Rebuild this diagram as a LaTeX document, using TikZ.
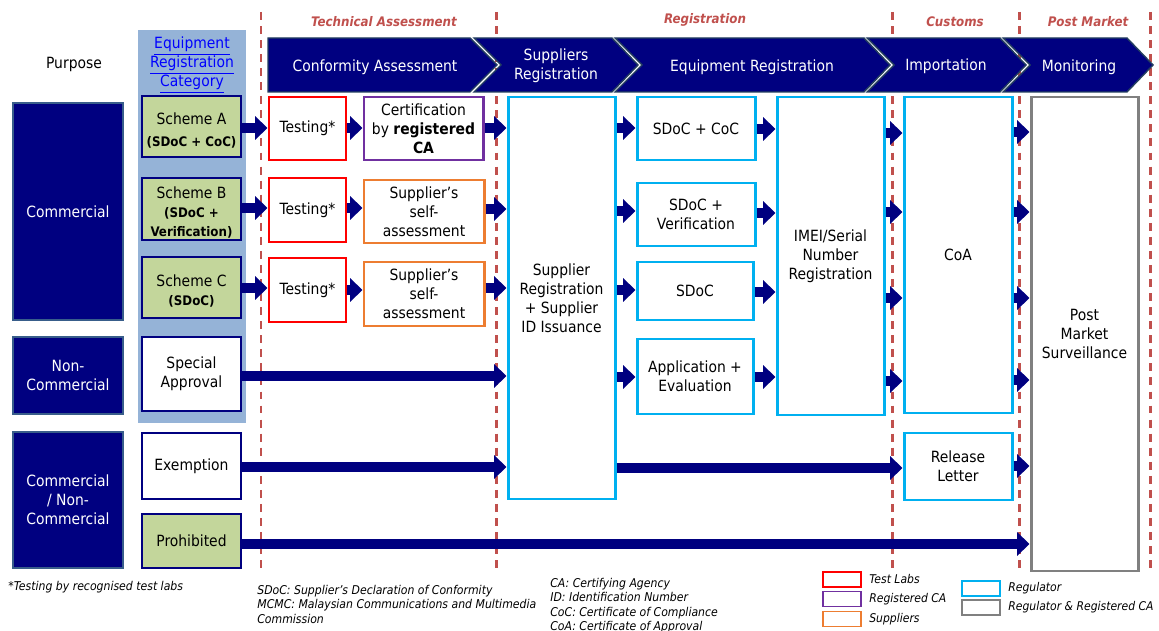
\documentclass[tikz,border=0pt]{standalone}
\usepackage{fontspec}
\setmainfont{DejaVu Sans Condensed}
\usetikzlibrary{arrows.meta}

\definecolor{navy}{HTML}{000080}
\definecolor{navyedge}{HTML}{385D8A}
\definecolor{chevedge}{HTML}{243F60}
\definecolor{colblue}{HTML}{95B3D7}
\definecolor{schemegreen}{HTML}{C3D69B}
\definecolor{phasered}{HTML}{C0504D}
\definecolor{labred}{HTML}{FF0000}
\definecolor{capurple}{HTML}{7030A0}
\definecolor{suporange}{HTML}{ED7D31}
\definecolor{regcyan}{HTML}{00B0F0}
\definecolor{pmsgray}{HTML}{808080}
\definecolor{linkblue}{HTML}{0000FF}

\newcommand{\schemenote}{\fontsize{7.5}{9.2}\selectfont\bfseries}
\newcommand{\schemetop}{\rule{0pt}{11pt}}

\tikzset{
  sz/.style 2 args={minimum width=#1*0.02cm, minimum height=#2*0.02cm},
  txt/.style={font=\fontsize{8.8}{10.8}\selectfont, align=center},
  purposebox/.style={txt, draw=navyedge, line width=1.2pt, fill=navy, text=white, inner sep=0pt},
  catbox/.style={txt, draw=navy, line width=1.7pt, fill=#1, inner sep=0pt},
  stagebox/.style={txt, draw=#1, line width=1.7pt, fill=white, inner sep=0pt},
  legbox/.style={draw=#1, line width=1.1pt, inner sep=0pt, sz={38}{15}},
  legtxt/.style={font=\fontsize{6.85}{8}\selectfont\itshape, anchor=west, inner sep=0pt},
  note/.style={font=\fontsize{6.9}{8.1}\selectfont\itshape, align=left, anchor=north west, inner sep=0pt},
  blk/.style={navy, line width=6pt, -{Triangle[length=7pt,width=13pt]}},
  chev/.style={fill=navy, draw=chevedge, line width=0.8pt},
  chevtxt/.style={txt, text=white},
  phase/.style={font=\fontsize{7.5}{9}\selectfont\bfseries\itshape, text=phasered},
  phaseline/.style={phasered, line width=1.7pt, dash pattern=on 4.5pt off 3.5pt},
}

\begin{document}
\begin{tikzpicture}[x=0.02cm,y=-0.02cm]
\useasboundingbox (0,0) rectangle (1159,631);

% phase borders
\foreach \x in {261,496,892,1019,1150}
  \draw[phaseline] (\x,12) -- (\x,570);
\node[phase] (techph) at (384,22) {Technical Assessment};
\node[phase] (regph) at (705,20) {Registration};
\node[phase] (custph) at (955,22) {Customs};
\node[phase] (postph) at (1088,22) {Post Market};

% process chevrons
\draw[chev] (268,38) -- (470,38) -- (497,65) -- (470,92) -- (268,92) -- cycle;
\foreach \l/\r in {474/612,615/864,867/1000,1003/1127}
  \draw[chev] (\l,38) -- (\r,38) -- (\r+26,65) -- (\r,92) -- (\l,92) -- (\l+27,65) -- cycle;
\node[chevtxt] (confass) at (375,67) {Conformity Assessment};
\node[chevtxt] (suppchev) at (556,66) {Suppliers\\Registration};
\node[chevtxt] (equipchev) at (752,67) {Equipment Registration};
\node[chevtxt] (impchev) at (946,66) {Importation};
\node[chevtxt] (monchev) at (1079,67) {Monitoring};

% purpose column
\node[txt] (purpose) at (74,64) {Purpose};
\node[purposebox, sz={110}{217}] (comm) at (68,211.5) {Commercial};
\node[purposebox, sz={110}{77}] (noncomm) at (68,375.5) {Non-\\Commercial};
\node[purposebox, sz={110}{136}] (both) at (68,500) {Commercial\\/ Non-\\Commercial};

% registration category column
\fill[colblue] (138,30) rectangle (246,423);
\node[txt, text=linkblue] (category) at (192,65)
  {\underline{Equipment}\\\underline{Registration}\\\underline{Category}};
\node[catbox=schemegreen, sz={99}{61}] (schA) at (191.5,126.5)
  {\schemetop Scheme A\\[2pt]{\schemenote (SDoC + CoC)}};
\node[catbox=schemegreen, sz={99}{62}] (schB) at (191.5,209)
  {\schemetop Scheme B\\{\schemenote (SDoC +}\\{\schemenote Verification)}};
\node[catbox=schemegreen, sz={99}{61}] (schC) at (191.5,287.5)
  {\schemetop Scheme C\\{\schemenote (SDoC)}};
\node[catbox=white, sz={99}{74}] (special) at (191.5,374) {Special\\Approval};
\node[catbox=white, sz={99}{66}] (exempt) at (191.5,466) {Exemption};
\node[catbox=schemegreen, sz={99}{54}] (prohib) at (191.5,541) {Prohibited};

% conformity assessment
\node[stagebox=labred, sz={77}{63}] (testA) at (307.5,128.5) {Testing*};
\node[stagebox=capurple, sz={119}{63}] (cert) at (423.5,128.5)
  {Certification\\by \textbf{registered}\\\textbf{CA}};
\node[stagebox=labred, sz={77}{64}] (testB) at (307.5,210) {Testing*};
\node[stagebox=suporange, sz={120}{63}] (selfB) at (424,211.5)
  {Supplier’s\\self-\\assessment};
\node[stagebox=labred, sz={77}{64}] (testC) at (307.5,290) {Testing*};
\node[stagebox=suporange, sz={120}{64}] (selfC) at (424,294)
  {Supplier’s\\self-\\assessment};

% registration
\node[stagebox=regcyan, sz={107}{402}] (suppreg) at (561.5,298)
  {Supplier\\Registration\\+ Supplier\\ID Issuance};
\node[stagebox=regcyan, sz={118}{63}] (sdoccoc) at (696,128.5) {SDoC + CoC};
\node[stagebox=regcyan, sz={118}{63}] (sdocver) at (696,214.5) {SDoC +\\Verification};
\node[stagebox=regcyan, sz={116}{58}] (sdoc) at (695,291) {SDoC};
\node[stagebox=regcyan, sz={116}{75}] (appev) at (695,376.5) {Application +\\Evaluation};
\node[stagebox=regcyan, sz={107}{318}] (imei) at (830.5,256)
  {IMEI/Serial\\Number\\Registration};

% customs and post market
\node[stagebox=regcyan, sz={108}{316}] (coa) at (958,255) {CoA};
\node[stagebox=regcyan, sz={108}{67}] (release) at (958,466.5) {Release\\Letter};
\node[stagebox=pmsgray, sz={107}{474}] (pms) at (1084.5,334)
  {Post\\Market\\Surveillance};

% flow arrows
\foreach \a/\b/\y in {schA/testA/128,testA/cert/128,cert/suppreg/128,
    suppreg/sdoccoc/128,sdoccoc/imei/129,imei/coa/133,coa/pms/132,
    schB/testB/208,testB/selfB/208,selfB/suppreg/209,
    suppreg/sdocver/211,sdocver/imei/213,imei/coa/212,coa/pms/212,
    schC/testC/288,testC/selfC/290,selfC/suppreg/288,
    suppreg/sdoc/290,sdoc/imei/292,imei/coa/298,coa/pms/298,
    special/suppreg/376,suppreg/appev/377,appev/imei/377,imei/coa/381,coa/pms/380,
    exempt/suppreg/467,suppreg/release/468,release/pms/466,prohib/pms/544}
  \draw[blk] (\a.east |- 0,\y) -- (\b.west |- 0,\y);

% notes
\node[note] (starnote) at (8,581) {*Testing by recognised test labs};
\node[note] (abbrA) at (257,585)
  {SDoC: Supplier’s Declaration of Conformity\\MCMC: Malaysian Communications and Multimedia\\Commission};
\node[note] (abbrB) at (550,578)
  {CA: Certifying Agency\\ID: Identification Number\\CoC: Certificate of Compliance\\CoA: Certificate of Approval};

% legend
\node[legbox=labred] (lgtest) at (842,579.5) {};
\node[legbox=capurple] (lgca) at (842,599) {};
\node[legbox=suporange] (lgsupp) at (842,619) {};
\node[legbox=regcyan] (lgreg) at (981,588.5) {};
\node[legbox=pmsgray] (lgregca) at (981,607.5) {};
\node[legtxt] at ([xshift=4]lgtest.east) {Test Labs};
\node[legtxt] at ([xshift=4]lgca.east) {Registered CA};
\node[legtxt] at ([xshift=4]lgsupp.east) {Suppliers};
\node[legtxt] at ([xshift=4]lgreg.east) {Regulator};
\node[legtxt] at ([xshift=4]lgregca.east) {Regulator \& Registered CA};
\end{tikzpicture}
\end{document}
